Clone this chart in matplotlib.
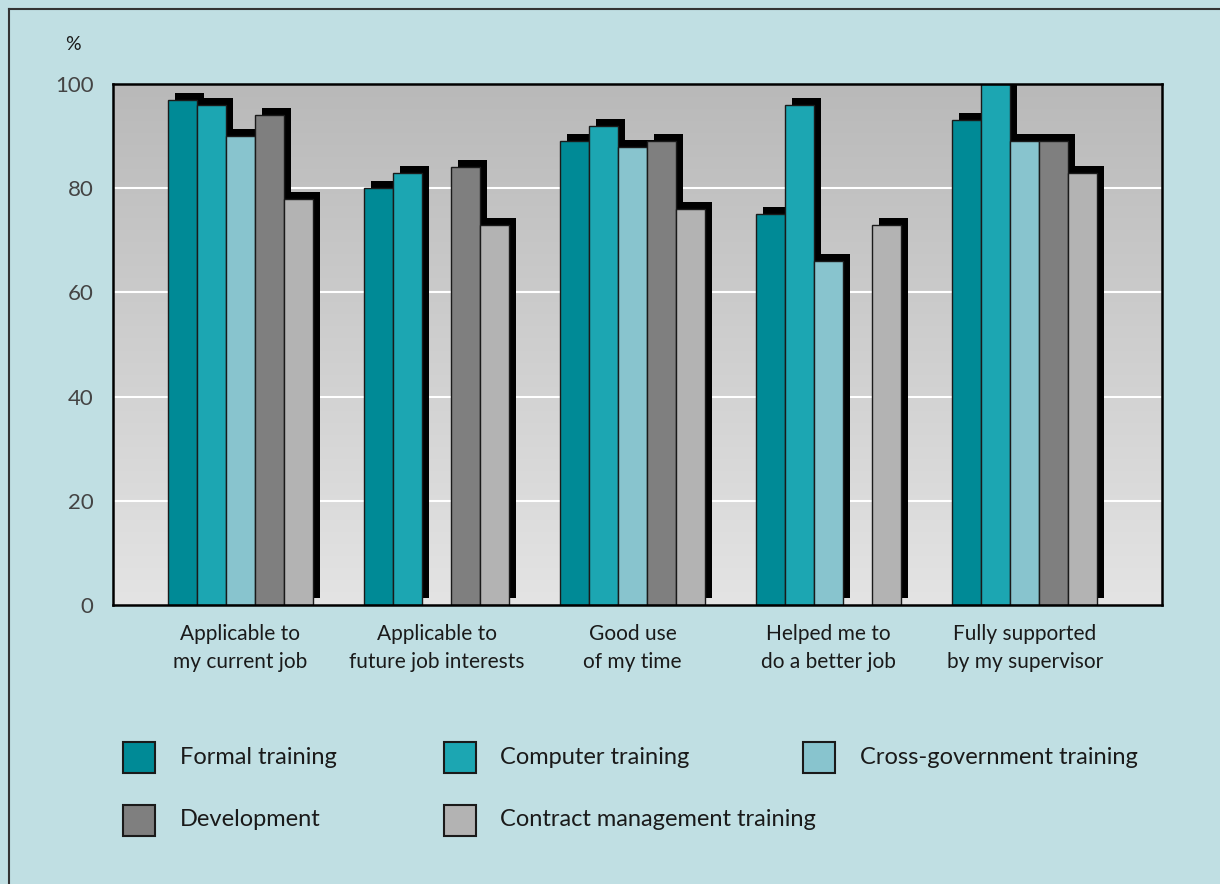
import numpy as np
import matplotlib
matplotlib.use("Agg")
import matplotlib.pyplot as plt
from matplotlib.colors import LinearSegmentedColormap
from matplotlib.patches import Rectangle
from matplotlib.lines import Line2D
from matplotlib.transforms import ScaledTranslation

plt.rcParams['font.family'] = ['Lato', 'DejaVu Sans']

categories = [
    "Applicable to\nmy current job",
    "Applicable to\nfuture job interests",
    "Good use\nof my time",
    "Helped me to\ndo a better job",
    "Fully supported\nby my supervisor",
]
series_names = [
    "Formal training",
    "Computer training",
    "Cross-government training",
    "Development",
    "Contract management training",
]
formal = [97, 80, 89, 75, 93]
computer = [96, 83, 92, 96, 100]
cross_gov = [90, np.nan, 88, 66, 89]
development = [94, 84, 89, np.nan, 89]
contract = [78, 73, 76, 73, 83]
yticks = [0, 20, 40, 60, 80, 100]

series = [formal, computer, cross_gov, development, contract]
colors = ["#008a96", "#1ca6b2", "#88c4ce", "#7f7f7f", "#b3b3b3"]
bg = "#c0dfe3"

fig = plt.figure(figsize=(12.2, 8.84), dpi=100, facecolor=bg)
ax = fig.add_axes([113 / 1220, 1 - 605 / 884, 1049 / 1220, 521 / 884])

# grey vertical gradient behind the bars
grad_cmap = LinearSegmentedColormap.from_list("g", ["#e4e4e4", "#b9b9b9"])
ax.imshow(np.linspace(0, 1, 256).reshape(-1, 1), extent=[0, 1, 0, 1],
          transform=ax.transAxes, aspect="auto", cmap=grad_cmap,
          origin="lower", zorder=0)

x = np.arange(len(categories))
width = 0.148
shadow_tf = ax.transData + ScaledTranslation(0.07, 0.07, fig.dpi_scale_trans)

for i, (vals, col) in enumerate(zip(series, colors)):
    vals = np.asarray(vals, dtype=float)
    pos = x + (i - 2) * width
    ok = ~np.isnan(vals)
    ax.bar(pos[ok], vals[ok], width=width, color="black", linewidth=0,
           transform=shadow_tf, zorder=2)
    ax.bar(pos[ok], vals[ok], width=width, color=col, edgecolor="#1a1a1a",
           linewidth=1.0, zorder=3)

ax.set_xlim(-0.65, 4.70)
ax.set_ylim(0, 100)
ax.set_yticks(yticks)
for y in yticks[1:-1]:
    ax.axhline(y, color="white", linewidth=1.5, zorder=1)

ax.set_xticks(x)
ax.set_xticklabels(categories, fontsize=15, color="#1a1a1a", linespacing=1.45)
ax.tick_params(axis="both", length=0)
ax.tick_params(axis="x", pad=14)
ax.tick_params(axis="y", pad=14, labelsize=16, labelcolor="#444444")
for s in ax.spines.values():
    s.set_linewidth(1.8)
    s.set_color("black")
    s.set_zorder(5)

fig.text(73 / 1220, 1 - 44 / 884, "%", fontsize=14, color="#1a1a1a",
         ha="center", va="center")

# frame lines along the top and left edges
fig.add_artist(Line2D([9 / 1220, 1], [1 - 9 / 884] * 2, color="#333333", lw=1.5))
fig.add_artist(Line2D([9 / 1220] * 2, [0, 1 - 9 / 884], color="#333333", lw=1.5))

# legend: (square left, text left, row centre) in pixels
legend_slots = [(123, 180, 757), (444, 500, 757), (803, 860, 757),
                (123, 180, 820), (444, 500, 820)]
for (sx, tx, cy), name, col in zip(legend_slots, series_names, colors):
    fig.add_artist(Rectangle((sx / 1220, 1 - (cy + 15.5) / 884), 32 / 1220, 31 / 884,
                             transform=fig.transFigure, facecolor=col,
                             edgecolor="#1a1a1a", linewidth=1.5))
    fig.text(tx / 1220, 1 - cy / 884, name, fontsize=17, color="#1a1a1a",
             ha="left", va="center")

fig.savefig("out.png", dpi=100, facecolor=bg)
